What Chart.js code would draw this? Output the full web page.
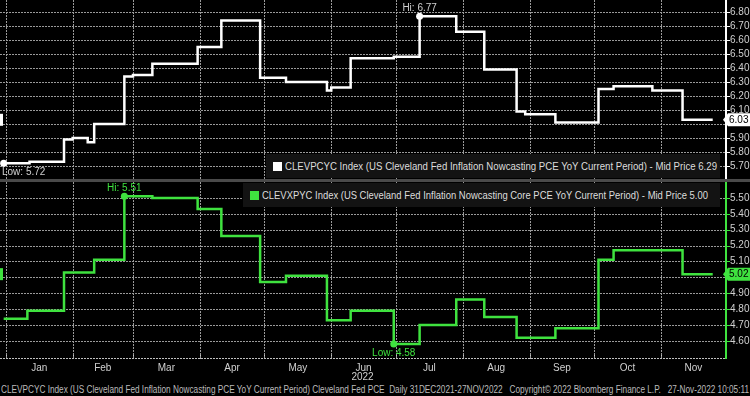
<!DOCTYPE html>
<html>
<head>
<meta charset="utf-8">
<script src="https://cdn.jsdelivr.net/npm/chart.js@4.4.1/dist/chart.umd.min.js"></script>
<style>
    * { margin:0; padding:0; }
    body { background:#000; width:750px; height:396px; overflow:hidden; position:relative;
           font-family:"Liberation Sans",Arial,sans-serif; color:#ccc; }
    canvas { position:absolute; left:0; }
    #top { top:0; }
    #bot { top:182px; }
    .split { position:absolute; left:0; top:179px; width:750px; height:3px; background:#4a4a4a; }
    .legend { position:absolute; height:24px; background:#131313; font-size:11px; line-height:24px; color:#ddd; white-space:nowrap; overflow:hidden; }
    .legend i { display:inline-block; width:9px; height:9px; margin:0 3px 0 7px; vertical-align:-1px; }
    .fit { display:inline-block; transform-origin:0 50%; white-space:pre; }
    #foot { position:absolute; left:1px; top:384px; font-size:10px; line-height:12px; color:#bbb; }
</style>
</head>
<body>
<canvas id="top" width="750" height="179"></canvas>
<div class="split"></div>
<canvas id="bot" width="750" height="202"></canvas>
<div class="legend" style="left:266px; top:154px; width:454px;"><i style="background:#fff"></i><span class="fit" data-w="432">CLEVPCYC Index (US Cleveland Fed Inflation Nowcasting PCE YoY Current Period) - Mid Price 6.29</span></div>
<div class="legend" style="left:243px; top:183px; width:477px;"><i style="background:#3fe23f"></i><span class="fit" data-w="446">CLEVXPYC Index (US Cleveland Fed Inflation Nowcasting Core PCE YoY Current Period) - Mid Price 5.00</span></div>
<div id="foot"><span class="fit" data-w="748">CLEVPCYC Index (US Cleveland Fed Inflation Nowcasting PCE YoY Current Period) Cleveland Fed PCE  Daily 31DEC2021-27NOV2022   Copyright© 2022 Bloomberg Finance L.P.   27-Nov-2022 10:05:11</span></div>
<script>
    var FONT = '"Liberation Sans",Arial,sans-serif';
    var WHITE = '#ffffff', GREEN = '#3fe23f';

    // step change dates and the value from that date on
    var pceDates = ['2021-12-31','2022-01-12','2022-01-28','2022-02-01','2022-02-08','2022-02-11','2022-02-25','2022-03-01',
                    '2022-03-10','2022-03-31','2022-04-11','2022-04-29','2022-05-11','2022-05-30','2022-06-01','2022-06-10',
                    '2022-06-30','2022-07-12','2022-07-29','2022-08-11','2022-08-26','2022-08-30','2022-09-13','2022-10-03',
                    '2022-10-10','2022-10-28','2022-11-11','2022-11-25'];
    var pceValues = [5.72,5.73,5.89,5.90,5.87,6.00,6.34,6.35,
                     6.43,6.55,6.74,6.33,6.30,6.24,6.26,6.47,
                     6.48,6.77,6.66,6.39,6.09,6.07,6.01,6.25,
                     6.27,6.24,6.03,6.03];

    var coreDates = ['2021-12-31','2022-01-11','2022-01-28','2022-02-11','2022-02-25','2022-03-10','2022-03-31','2022-04-11',
                     '2022-04-29','2022-05-11','2022-05-30','2022-06-10','2022-06-30','2022-07-12','2022-07-29','2022-08-11',
                     '2022-08-26','2022-09-13','2022-10-03','2022-10-10','2022-11-11','2022-11-25'];
    var coreValues = [4.74,4.79,5.03,5.11,5.51,5.50,5.43,5.26,
                      4.97,5.01,4.73,4.79,4.58,4.70,4.86,4.75,
                      4.62,4.68,5.11,5.17,5.02,5.02];

    var pceTicks = [5.70,5.80,5.90,6.00,6.10,6.20,6.30,6.40,6.50,6.60,6.70,6.80];
    var coreTicks = [4.60,4.70,4.80,4.90,5.00,5.10,5.20,5.30,5.40,5.50];

    var monthStarts = ['2022-01-01','2022-02-01','2022-03-01','2022-04-01','2022-05-01','2022-06-01',
                       '2022-07-01','2022-08-01','2022-09-01','2022-10-01','2022-11-01','2022-12-01'];
    var monthLabels = ['Jan','Feb','Mar','Apr','May','Jun','Jul','Aug','Sep','Oct','Nov'];

    function dayNum(s) {
        var p = s.split('-');
        return (Date.UTC(+p[0], p[1] - 1, +p[2]) - Date.UTC(2021, 11, 31)) / 864e5;
    }
    var xMin = -1.7, xMax = 334.7;
    var monthMids = monthLabels.map(function(m, i) {
        return (dayNum(monthStarts[i]) + dayNum(monthStarts[i + 1])) / 2;
    });

    // squeeze html text into the width it takes in the picture
    document.querySelectorAll('.fit').forEach(function(el) {
        var w = el.getBoundingClientRect().width;
        el.style.transform = 'scaleX(' + (el.dataset.w / w) + ')';
    });

    // dotted grid, axis lines and tick marks from the scales' ticks, slid under what is already drawn
    function drawFrame(chart, o) {
        var ctx = chart.ctx, a = chart.chartArea, xs = chart.scales.x, ys = chart.scales.y;
        var x, y, r = Math.round(a.right), top = Math.round(a.top), bot = Math.round(a.bottom);
        ctx.save();
        ctx.globalCompositeOperation = 'destination-over';
        ctx.fillStyle = o.color;
        ctx.fillRect(r, top, 2, bot - top);
        ys.ticks.forEach(function(t) {
            ctx.fillRect(r, Math.round(ys.getPixelForValue(t.value)), 5, 1);
        });
        ctx.fillStyle = '#9a9a9a';
        ys.ticks.forEach(function(t) {
            y = Math.round(ys.getPixelForValue(t.value));
            for (x = 0; x < r; x += 3) ctx.fillRect(x, y, 2, 1);
        });
        xs.ticks.forEach(function(t) {
            x = Math.round(xs.getPixelForValue(t.value));
            for (y = top; y < bot; y += 3) ctx.fillRect(x, y, 1, 2);
        });
        if (o.baseline) {
            y = bot - 1;
            ctx.fillStyle = '#c0c0c0';
            for (x = 0; x < r; x += 3) ctx.fillRect(x, y, 2, 1);
            xs.ticks.forEach(function(t) {
                ctx.fillRect(Math.round(xs.getPixelForValue(t.value)), y - 3, 1, 4);
            });
        }
        ctx.restore();
    }

    var marks = {
        id: 'marks',
        afterDraw: function(chart, args, o) {
            drawFrame(chart, o);
            var ctx = chart.ctx, ds = chart.data.datasets[0].data;
            var xs = chart.scales.x, ys = chart.scales.y, a = chart.chartArea;
            var hi = 0, lo = 0;
            ds.forEach(function(p, i) { if (p.y > ds[hi].y) hi = i; if (p.y < ds[lo].y) lo = i; });
            ctx.save();
            ctx.font = '10px ' + FONT;
            ctx.textAlign = 'center';
            ctx.textBaseline = 'middle';
            [[hi, 'Hi: ', -8], [lo, 'Low: ', 9]].forEach(function(m) {
                var p = ds[m[0]], x = xs.getPixelForValue(p.x), y = ys.getPixelForValue(p.y);
                ctx.fillStyle = o.color;
                ctx.beginPath(); ctx.arc(x, y, 3.5, 0, Math.PI * 2); ctx.fill();
                var t = m[1] + p.y.toFixed(2), w = ctx.measureText(t).width;
                var cx = Math.max(a.left + w / 2 + 2, Math.min(a.right - w / 2 - 2, x));
                ctx.fillStyle = o.text;
                ctx.fillText(t, cx, y + m[2]);
            });
            var last = ds[ds.length - 1], ly = ys.getPixelForValue(last.y);
            ctx.fillStyle = o.color;
            ctx.fillRect(0, ly - 6, 3, 12);
            ctx.beginPath();
            ctx.moveTo(a.right - 2, ly); ctx.lineTo(a.right + 3, ly - 6.5); ctx.lineTo(chart.width, ly - 6.5);
            ctx.lineTo(chart.width, ly + 6.5); ctx.lineTo(a.right + 3, ly + 6.5); ctx.closePath(); ctx.fill();
            ctx.fillStyle = '#000';
            ctx.textAlign = 'left';
            ctx.fillText(last.y.toFixed(2), a.right + 4, ly + 0.5);
            ctx.restore();
        }
    };

    function makeChart(id, dates, values, ticks, color, yMin, yMax, textColor, withLabels) {
        var pts = dates.map(function(d, i) { return {x: dayNum(d), y: values[i]}; });
        var last = values[values.length - 1];
        var scales = {
            x: {
                type: 'linear', min: xMin, max: xMax, weight: 0,
                afterBuildTicks: function(s) { s.ticks = monthStarts.map(function(d) { return {value: dayNum(d)}; }); },
                ticks: {display: false},
                grid: {display: false, drawTicks: false},
                border: {display: false}
            },
            y: {
                position: 'right', min: yMin, max: yMax,
                afterBuildTicks: function(s) { s.ticks = ticks.map(function(v) { return {value: v}; }); },
                afterFit: function(s) { s.width = 25; s.paddingTop = 0; s.paddingBottom = 0; },
                ticks: {
                    autoSkip: false, color: '#d0d0d0', font: {family: FONT, size: 10}, padding: 1,
                    callback: function(v) { return Math.abs(v - last) < 0.05 ? '' : v.toFixed(2); }
                },
                grid: {display: false, drawTicks: true, tickLength: 4},
                border: {display: false}
            }
        };
        if (withLabels) {
            scales.xl = {
                type: 'linear', position: 'bottom', min: xMin, max: xMax, weight: 1,
                afterBuildTicks: function(s) { s.ticks = monthMids.map(function(v) { return {value: v}; }); },
                afterFit: function(s) { s.height = 25; s.paddingLeft = 0; s.paddingRight = 0; },
                ticks: {
                    autoSkip: false, maxRotation: 0, color: '#d0d0d0', font: {family: FONT, size: 10}, padding: 3,
                    callback: function(v, i) { return monthLabels[i]; }
                },
                grid: {display: false, drawTicks: false},
                border: {display: false},
                title: {display: true, text: '2022', color: '#d0d0d0', font: {family: FONT, size: 10}, padding: {top: 0, bottom: 1}}
            };
        }
        return new Chart(document.getElementById(id).getContext('2d'), {
            type: 'line',
            data: {datasets: [{data: pts, borderColor: color, borderWidth: 2.5, pointRadius: 0, stepped: true, fill: false}]},
            options: {
                responsive: false, animation: false, devicePixelRatio: 1,
                layout: {padding: 0},
                plugins: {
                    legend: {display: false}, tooltip: {enabled: false},
                    marks: {color: color, text: textColor, baseline: withLabels}
                },
                scales: scales
            },
            plugins: [marks]
        });
    }

    makeChart('top', pceDates, pceValues, pceTicks, WHITE, 5.607, 6.886, '#d0d0d0', false);
    makeChart('bot', coreDates, coreValues, coreTicks, GREEN, 4.486, 5.60, GREEN, true);
</script>
</body>
</html>
